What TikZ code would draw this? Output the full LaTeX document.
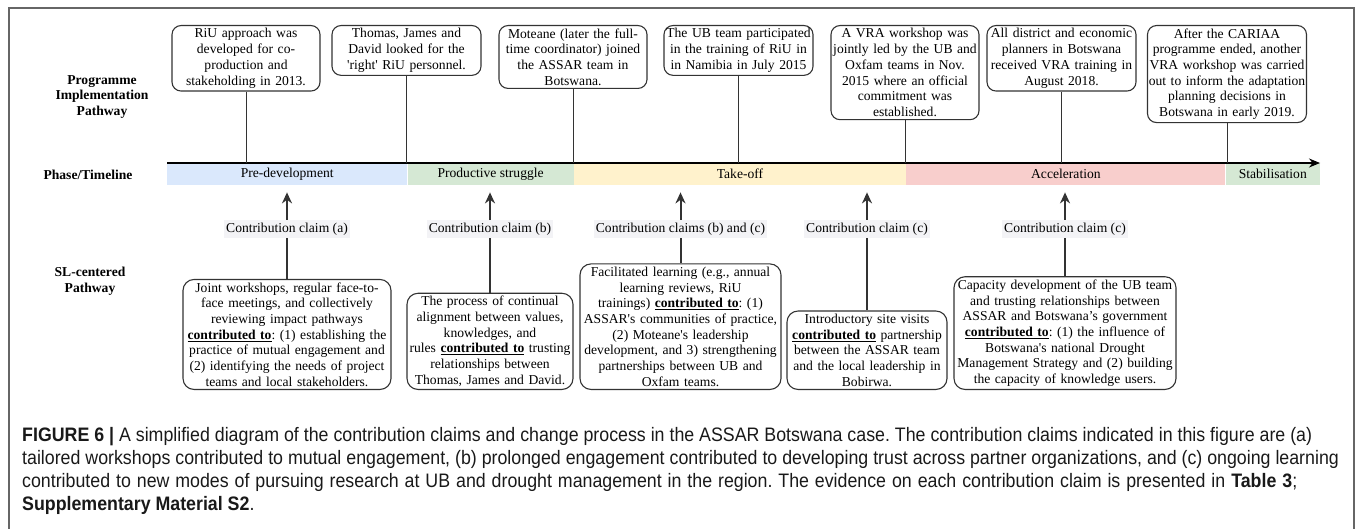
\documentclass[tikz,border=0pt]{standalone}
\usepackage{fontspec}
\setmainfont{Liberation Serif}
\newfontfamily\capfont[FakeStretch=0.912]{Liberation Sans}
\usetikzlibrary{arrows.meta,positioning}

\definecolor{predev}{HTML}{DAE8FC}
\definecolor{struggle}{HTML}{D5E8D4}
\definecolor{takeoff}{HTML}{FFF2CC}
\definecolor{accel}{HTML}{F8CECC}
\definecolor{stab}{HTML}{D5E8D4}
\definecolor{ink}{HTML}{333333}
\definecolor{lblbg}{HTML}{F3F3F6}

\newcommand{\txtsize}{\fontsize{13.6}{15.7}\selectfont}
\newcommand{\contrib}{\underline{\textbf{contributed to}}}

\tikzset{
  event/.style={draw=ink, line width=1.1pt, rounded corners=9pt, align=center,
    inner xsep=1pt, inner ysep=3pt, font=\txtsize, anchor=north},
  claimbox/.style={event, rounded corners=11pt, anchor=south},
  phase/.style={anchor=north west, minimum height=22pt, inner sep=0pt, font=\txtsize},
  claimlbl/.style={fill=lblbg, inner xsep=2pt, inner ysep=2.5pt, font=\txtsize},
  rowlbl/.style={align=center, font=\bfseries\txtsize},
  stem/.style={draw=ink, line width=0.9pt},
  claimarrow/.style={draw=ink, line width=2pt, -{Stealth[length=11pt,width=10pt]}, shorten >=7pt}
}

\begin{document}
\frenchspacing
\begin{tikzpicture}[x=1pt,y=-1pt]
\useasboundingbox (0,0) rectangle (1357,529);
% frame
\draw[black!60, line width=1.2pt] (9,529) -- (9,8) -- (1354,8) -- (1354,529);

% row labels
\node[rowlbl] (prog) at (102,97) {Programme\\Implementation\\Pathway};
\node[rowlbl] (phaselbl) at (88,175) {Phase/Timeline};
\node[rowlbl] (sllbl) at (90,281) {SL-centered\\Pathway};

% phases
\node[phase, fill=predev, minimum width=240pt] (ph1) at (167,163) {Pre-development};
\node[phase, fill=struggle, minimum width=166pt, right=0pt of ph1] (ph2) {Productive struggle};
\node[phase, fill=takeoff, minimum width=332pt, right=0pt of ph2] (ph3) {Take-off};
\node[phase, fill=accel, minimum width=319pt, right=0pt of ph3] (ph4) {Acceleration};
\node[phase, fill=stab, minimum width=94pt, right=0pt of ph4] (ph5) {Stabilisation};
\coordinate (tlend) at (1320,163);
\draw[draw=black, line width=1.1pt, -{Stealth[length=11pt,width=9pt]}] (ph1.north west) -- (tlend);

% programme implementation events
\node[event, text width=146pt] (e1) at (246,25)
  {RiU approach was\\developed for co-\\production and\\stakeholding in 2013.};
\node[event, text width=147pt] (e2) at (406.5,25)
  {Thomas, James and\\David looked for the\\\textquotesingle right\textquotesingle\ RiU personnel.};
\node[event, text width=146pt] (e3) at (573,25)
  {Moteane (later the full-\\time coordinator) joined\\the ASSAR team in\\Botswana.};
\node[event, text width=147pt] (e4) at (738.5,25)
  {The UB team participated\\in the training of RiU in\\in Namibia in July 2015};
\node[event, text width=146pt] (e5) at (905,25)
  {A VRA workshop was\\jointly led by the UB and\\Oxfam teams in Nov.\\2015 where an official\\commitment was\\established.};
\node[event, text width=147pt] (e6) at (1061.5,25)
  {All district and economic\\planners in Botswana\\received VRA training in\\August 2018.};
\node[event, text width=159pt, inner xsep=0pt] (e7) at (1227,25)
  {After the CARIAA\\programme ended, another\\VRA workshop was carried\\out to inform the adaptation\\planning decisions in\\Botswana in early 2019.};

\foreach \e in {e1,e2,e3,e4,e5,e6,e7}
  \draw[stem] (\e.south) -- (\e.south |- ph1.north);

% SL-centered claims
\node[claimbox, text width=206pt] (c1) at (287,390)
  {Joint workshops, regular face-to-\\face meetings, and collectively\\reviewing impact pathways\\\contrib: (1) establishing the\\practice of mutual engagement and\\(2) identifying the needs of project\\teams and local stakeholders.};
\node[claimbox, text width=164pt] (c2) at (490,390)
  {The process of continual\\alignment between values,\\knowledges, and\\rules \contrib\ trusting\\relationships between\\Thomas, James and David.};
\node[claimbox, text width=199pt] (c3) at (680.5,390)
  {Facilitated learning (e.g., annual\\learning reviews, RiU\\trainings) \contrib: (1)\\ASSAR\textquotesingle s communities of practice,\\(2) Moteane\textquotesingle s leadership\\development, and 3) strengthening\\partnerships between UB and\\Oxfam teams.};
\node[claimbox, text width=158pt] (c4) at (867,390)
  {Introductory site visits\\\contrib\ partnership\\between the ASSAR team\\and the local leadership in\\Bobirwa.};
\node[claimbox, text width=220pt] (c5) at (1065,390)
  {Capacity development of the UB team\\and trusting relationships between\\ASSAR and Botswana’s government\\\contrib: (1) the influence of\\Botswana\textquotesingle s national Drought\\Management Strategy and (2) building\\the capacity of knowledge users.};

\draw[claimarrow] (c1.north) -- (c1.north |- ph1.south);
\draw[claimarrow] (c2.north) -- (c2.north |- ph2.south);
\draw[claimarrow] (c3.north) -- (c3.north |- ph3.south);
\draw[claimarrow] (c4.north) -- (c4.north |- ph3.south);
\draw[claimarrow] (c5.north) -- (c5.north |- ph4.south);

\node[claimlbl] (l1) at (287,229) {Contribution claim (a)};
\node[claimlbl] (l2) at (490,229) {Contribution claim (b)};
\node[claimlbl] (l3) at (680.5,229) {Contribution claims (b) and (c)};
\node[claimlbl] (l4) at (867,229) {Contribution claim (c)};
\node[claimlbl] (l5) at (1065,229) {Contribution claim (c)};

% caption
\node[anchor=north west, align=left, inner sep=0pt, text=black!90,
  font=\capfont\fontsize{19.5}{23}\selectfont] (cap) at (22,427)
  {\textbf{FIGURE 6 |} A simplified diagram of the contribution claims and change process in the ASSAR Botswana case. The contribution claims indicated in this figure are (a)\\
   tailored workshops contributed to mutual engagement, (b) prolonged engagement contributed to developing trust across partner organizations, and (c) ongoing learning\\
   \makebox[1275pt][s]{contributed to new modes of pursuing research at UB and drought management in the region. The evidence on each contribution claim is presented in \textbf{Table 3};}\\
   \textbf{Supplementary Material S2}.};
\end{tikzpicture}
\end{document}
